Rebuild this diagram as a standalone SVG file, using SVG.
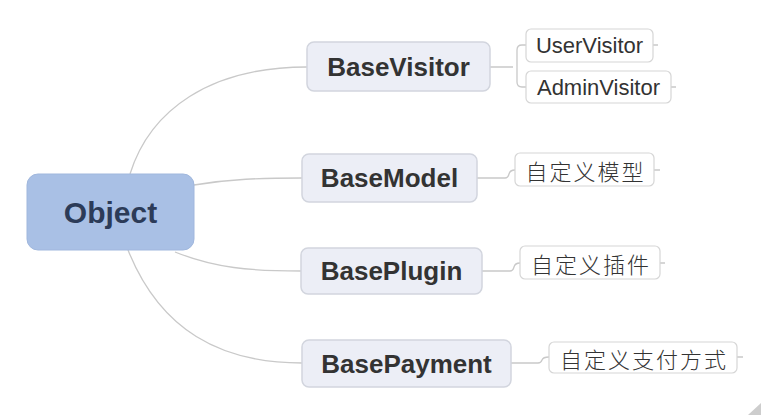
<svg xmlns="http://www.w3.org/2000/svg" width="761" height="415" viewBox="0 0 761 415">
<style>
.root{fill:#a9c0e5;stroke:#a0b7dd;stroke-width:1}
.mid{fill:#eceef6;stroke:#d2d5de;stroke-width:1.5}
.leaf{fill:#ffffff;stroke:#d6d6d6;stroke-width:1.2}
.lnk{fill:none;stroke:#c9c9c9;stroke-width:1.3}
.tr{font-family:"Liberation Sans",Arial,sans-serif;font-weight:bold;font-size:30px;fill:#2c3b58;text-anchor:middle;dominant-baseline:central}
.tm{font-family:"Liberation Sans",Arial,sans-serif;font-weight:bold;font-size:26px;fill:#333333;text-anchor:middle;dominant-baseline:central}
.tl{font-family:"Liberation Sans",Arial,sans-serif;font-size:22px;fill:#333333;text-anchor:middle;dominant-baseline:central}
.tc{font-family:"Noto Sans CJK SC",sans-serif;font-size:22px;font-weight:300;fill:#333333;text-anchor:middle;dominant-baseline:central;letter-spacing:2px}
</style>
<rect width="761" height="415" fill="#ffffff"/>
<g id="connectors">
<path class="lnk" d="M130,174 C150,110 210,67 307,67"/>
<path class="lnk" d="M194,185 C230,179 260,178 302,178"/>
<path class="lnk" d="M175,252 C215,268 250,271 301,271"/>
<path class="lnk" d="M128,250 C160,330 220,363 302,363"/>
<path class="lnk" d="M490,67 H513 M526,45 H522 Q517,45 517,50 V82 Q517,87 522,87 H526"/>
<path class="lnk" d="M477,178 H505 Q508,178 509,174 Q510,170 515,170"/>
<path class="lnk" d="M482,271 H510 Q513,271 514,267 Q515,263 520,263"/>
<path class="lnk" d="M511,363 H538 Q541,363 542,360 Q543,357 549,357"/>
<path class="lnk" d="M653,45 H658 M671,87 H676 M654,170 H660 M660,263 H665 M737,357 H743"/>
</g>
<g id="object">
<rect class="root" x="27" y="174" width="167" height="76" rx="11"/>
<text class="tr" x="110.5" y="212">Object</text>
</g>
<g id="basevisitor">
<rect class="mid" x="307" y="42" width="183" height="49" rx="7"/>
<text class="tm" x="398.5" y="66.5">BaseVisitor</text>
</g>
<g id="basemodel">
<rect class="mid" x="302" y="154" width="175" height="48" rx="7"/>
<text class="tm" x="389.5" y="178">BaseModel</text>
</g>
<g id="baseplugin">
<rect class="mid" x="301" y="248" width="181" height="46" rx="7"/>
<text class="tm" x="391.5" y="271">BasePlugin</text>
</g>
<g id="basepayment">
<rect class="mid" x="302" y="340" width="209" height="47" rx="7"/>
<text class="tm" x="406.5" y="363.5">BasePayment</text>
</g>
<g id="uservisitor">
<rect class="leaf" x="526" y="29" width="127" height="33" rx="5"/>
<text class="tl" x="589.5" y="45.5">UserVisitor</text>
</g>
<g id="adminvisitor">
<rect class="leaf" x="526" y="71" width="145" height="32" rx="5"/>
<text class="tl" x="598.5" y="87">AdminVisitor</text>
</g>
<g id="model-leaf">
<rect class="leaf" x="515" y="153" width="139" height="33" rx="5"/>
<text class="tc" x="585.5" y="169.5">自定义模型</text>
</g>
<g id="plugin-leaf">
<rect class="leaf" x="520" y="246" width="140" height="33" rx="5"/>
<text class="tc" x="591" y="262.5">自定义插件</text>
</g>
<g id="payment-leaf">
<rect class="leaf" x="549" y="342" width="188" height="31" rx="5"/>
<text class="tc" x="644" y="357.5">自定义支付方式</text>
</g>
<polygon points="748,415 761,403 761,415" fill="#cdcdcd"/>
</svg>
